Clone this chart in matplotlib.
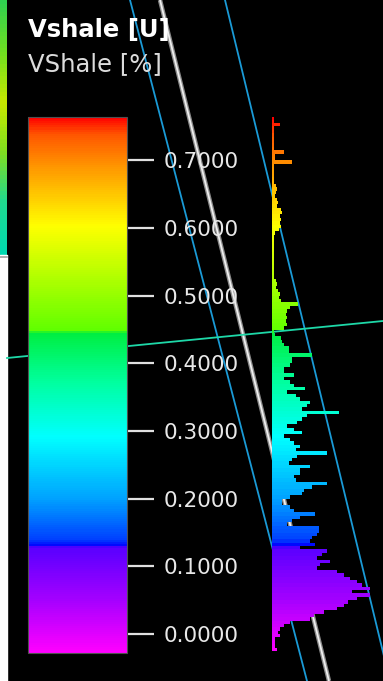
import numpy as np
import matplotlib
matplotlib.use("Agg")
import matplotlib.pyplot as plt
from matplotlib.colors import LinearSegmentedColormap, Normalize
from matplotlib.cm import ScalarMappable

# property range shown on the scale
vmin, vmax = -0.028, 0.764
ticks = [0.0, 0.1, 0.2, 0.3, 0.4, 0.5, 0.6, 0.7]

# histogram of Vshale, bins of 0.005 listed from the top of the scale down
bin_top = 0.765
bin_width = 0.005
counts = [
    2, 2, 8, 2, 2, 2, 2, 2, 2, 2,
    12, 3, 3, 20, 2, 2, 2, 2, 2, 2,
    4, 5, 4, 3, 5, 6, 5, 9, 10, 8,
    9, 8, 9, 7, 3, 2, 2, 2, 2, 2,
    2, 2, 2, 2, 2, 2, 2, 2, 4, 5,
    4, 6, 8, 7, 9, 26, 18, 15, 14, 15,
    14, 15, 12, 2, 3, 9, 10, 12, 17, 17,
    40, 20, 20, 18, 12, 12, 22, 12, 18, 22,
    33, 15, 24, 28, 38, 35, 30, 67, 35, 30,
    25, 15, 22, 30, 12, 18, 22, 28, 24, 55,
    25, 20, 17, 38, 28, 28, 22, 24, 55, 40,
    32, 30, 18, 10, 10, 18, 22, 43, 28, 20,
    15, 47, 47, 45, 40, 38, 43, 28, 55, 50,
    45, 58, 48, 45, 65, 72, 78, 85, 90, 98,
    80, 98, 85, 76, 72, 65, 52, 42, 38, 18,
    12, 8, 6, 8, 3, 3, 3, 5,
]

# rainbow scale with the hard steps at green and blue
stops = [
    (-0.028, '#ff00ff'),
    (0.050, '#a400ff'),
    (0.127, '#5800ff'),
    (0.129, '#0000ff'),
    (0.139, '#0040ff'),
    (0.198, '#00a0ff'),
    (0.291, '#00ffff'),
    (0.371, '#00ffa0'),
    (0.446, '#00ee40'),
    (0.449, '#60ff00'),
    (0.542, '#c0ff00'),
    (0.604, '#ffff00'),
    (0.690, '#ff9800'),
    (0.740, '#ff5500'),
    (0.764, '#ff0000'),
]
cmap = LinearSegmentedColormap.from_list(
    'vshale', [((v - vmin) / (vmax - vmin), c) for v, c in stops])
norm = Normalize(vmin, vmax)

W, H = 383, 681
fig = plt.figure(figsize=(W / 100, H / 100), dpi=100, facecolor='black')


def fx(px):
    return px / W


def fy(py):
    return 1 - py / H


# background view: pixel coordinates, y down
bg = fig.add_axes([0, 0, 1, 1], zorder=0)
bg.set_xlim(0, W)
bg.set_ylim(H, 0)
bg.axis('off')
bg.set_facecolor('black')

# strip of the map window on the left
strip = LinearSegmentedColormap.from_list(
    'strip', ['#30d050', '#70e020', '#c8e800', '#80e020', '#20d890', '#00d8b0'])
bg.imshow(np.linspace(0, 1, 64).reshape(-1, 1), cmap=strip, aspect='auto',
          extent=[0, 6.5, 255, 0], zorder=1)
bg.fill_between([0, 6.5], 255, H, color='white', zorder=1)
bg.plot([0, 6.5], [256.5, 256.5], color='#a0a0a0', lw=1.2, zorder=2)

# well path and surface traces behind the legend
bg.plot([160, 329], [0, H], color='#8c8c8c', lw=3.2, solid_capstyle='butt', zorder=2)
bg.plot([160, 329], [0, H], color='#eeeeee', lw=1.3, solid_capstyle='butt', zorder=3)
bg.plot([130, 307], [0, H], color='#1a9ad6', lw=1.3, zorder=3)
bg.plot([225, 390], [0, H], color='#1a9ad6', lw=1.3, zorder=3)
bg.plot([7, 383], [358, 321], color='#1ed8a8', lw=1.3, zorder=3)

# titles
fig.text(fx(28), fy(37), 'Vshale [U]', color='white', fontsize=17.5,
         fontweight='bold', va='baseline', ha='left')
fig.text(fx(28), fy(71), 'VShale [%]', color='#dcdcdc', fontsize=17.5,
         va='baseline', ha='left')

# colour scale
cax = fig.add_axes([fx(28), fy(653), fx(127) - fx(28), fy(117) - fy(653)], zorder=5)
cb = fig.colorbar(ScalarMappable(norm=norm, cmap=cmap), cax=cax,
                  ticks=ticks, format='%.4f')
cb.outline.set_edgecolor('#505050')
cb.outline.set_linewidth(0.8)
cax.tick_params(axis='y', length=19.5, width=1.6, color='#e0e0e0',
                labelcolor='#e8e8e8', labelsize=15.5, pad=7)

# histogram beside the scale
hax = fig.add_axes([fx(272), fy(653), 1 - fx(272), fy(117) - fy(653)], zorder=4)
centers = bin_top - (np.arange(len(counts)) + 0.5) * bin_width
hax.barh(centers, counts, height=bin_width, color=cmap(norm(centers)),
         linewidth=0, align='center')
hax.set_ylim(vmin, vmax)
hax.set_xlim(0, 111)
hax.axis('off')

fig.savefig('out.png', dpi=100, facecolor='black')
